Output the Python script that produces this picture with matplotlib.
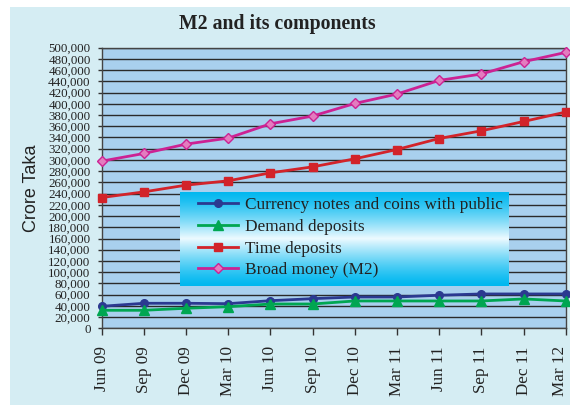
import numpy as np
import matplotlib
matplotlib.use("Agg")
import matplotlib.pyplot as plt
from matplotlib.patches import Rectangle
from matplotlib.transforms import ScaledTranslation

categories = ["Jun 09", "Sep 09", "Dec 09", "Mar 10", "Jun 10", "Sep 10",
              "Dec 10", "Mar 11", "Jun 11", "Sep 11", "Dec 11", "Mar 12"]
currency = [39200, 44600, 44600, 43900, 49200, 52800, 55800, 55800, 58900, 61200, 61200, 61200]
demand = [32100, 32100, 35700, 38500, 43300, 43300, 48700, 48700, 48700, 48700, 52300, 48700]
time_dep = [233000, 243100, 255100, 262800, 277000, 287700, 302000, 318600, 338200, 351900, 368500, 385300]
broad_money = [297900, 311500, 328200, 338900, 364400, 378200, 400600, 417400, 441700, 453100, 475000, 491600]
yticks = list(range(0, 500001, 20000))

W, H = 570, 405
fig = plt.figure(figsize=(W / 100, H / 100), dpi=100, facecolor="white")
bg = "#d5edf3"
fig.patches.append(Rectangle((10 / W, 0), 1 - 10 / W, 1 - 7 / H, transform=fig.transFigure,
                             facecolor=bg, edgecolor="none", zorder=-10))

ax = fig.add_axes([101.7 / W, 1 - 328.3 / H, (565.7 - 101.7) / W, (328.3 - 47.7) / H])
ax.set_facecolor("#a9d0ee")
x = np.arange(len(categories))

series = [
    ("Currency notes and coins with public", currency, "#2b3990", "o", "#2b3990", 5.5),
    ("Demand deposits", demand, "#00a651", "^", "#00a651", 7),
    ("Time deposits", time_dep, "#d2232a", "s", "#d2232a", 6),
    ("Broad money (M2)", broad_money, "#cc2293", "D", "#e37cbf", 5),
]
handles = []
for label, vals, col, mk, fc, ms in series:
    h, = ax.plot(x, vals, color=col, lw=2, marker=mk, markersize=ms,
                 markerfacecolor=fc, markeredgecolor=col, markeredgewidth=1,
                 label=label, zorder=3, clip_on=False)
    handles.append(h)

ax.set_xlim(0, len(categories) - 1)
ax.set_ylim(0, 500000)
ax.set_yticks(yticks)
ax.set_yticklabels([f"{v:,}" for v in yticks], family="Liberation Serif", fontsize=9.4)
ax.set_xticks(x)
ax.set_xticklabels(categories, rotation=90, family="Liberation Serif", fontsize=12.3)
ax.yaxis.grid(True, color="#2a2a2a", lw=1)
ax.set_axisbelow(True)
ax.tick_params(axis="y", length=3, width=1, pad=5, colors="#333333", labelcolor="#222222")
ax.tick_params(axis="x", length=5, width=1, pad=8, colors="#333333", labelcolor="#222222")
for s in ax.spines.values():
    s.set_color("#444444")
    s.set_linewidth(1)

last = ax.get_xticklabels()[-1]
last.set_transform(last.get_transform() + ScaledTranslation(-4 / 72, 0, fig.dpi_scale_trans))

ax.set_ylabel("Crore Taka", family="Liberation Sans", fontsize=13, color="#222222")
ax.yaxis.set_label_coords(-0.133, 0.5)

fig.text(277.5 / W, 1 - 24 / H, "M2 and its components", ha="center", va="center",
         family="Liberation Serif", fontweight="bold", fontsize=14.2, color="#222222")

# legend gradient background
lx0, lx1, ly0, ly1 = 180, 509, 191.7, 286
gax = fig.add_axes([lx0 / W, 1 - ly1 / H, (lx1 - lx0) / W, (ly1 - ly0) / H])
t = np.linspace(0, 1, 200)
w = 1 - np.abs(t - 0.5) * 2
w = w ** 1.3
c_edge = np.array([0.0, 0.72, 0.94])
c_mid = np.array([0.93, 0.98, 1.0])
grad = (c_edge[None, :] * (1 - w[:, None]) + c_mid[None, :] * w[:, None])[:, None, :]
gax.imshow(grad, aspect="auto", extent=[0, 1, 0, 1])
gax.set_axis_off()

leg = fig.legend(handles=handles, loc="upper left", bbox_to_anchor=(198 / W, 1 - 197 / H),
                 frameon=False, borderaxespad=0, borderpad=0, handlelength=2.3,
                 handletextpad=0.45, labelspacing=0.33,
                 prop={"family": "Liberation Serif", "size": 12.4})
for txt in leg.get_texts():
    txt.set_color("#222222")

fig.savefig("out.png", dpi=100, facecolor=fig.get_facecolor())
